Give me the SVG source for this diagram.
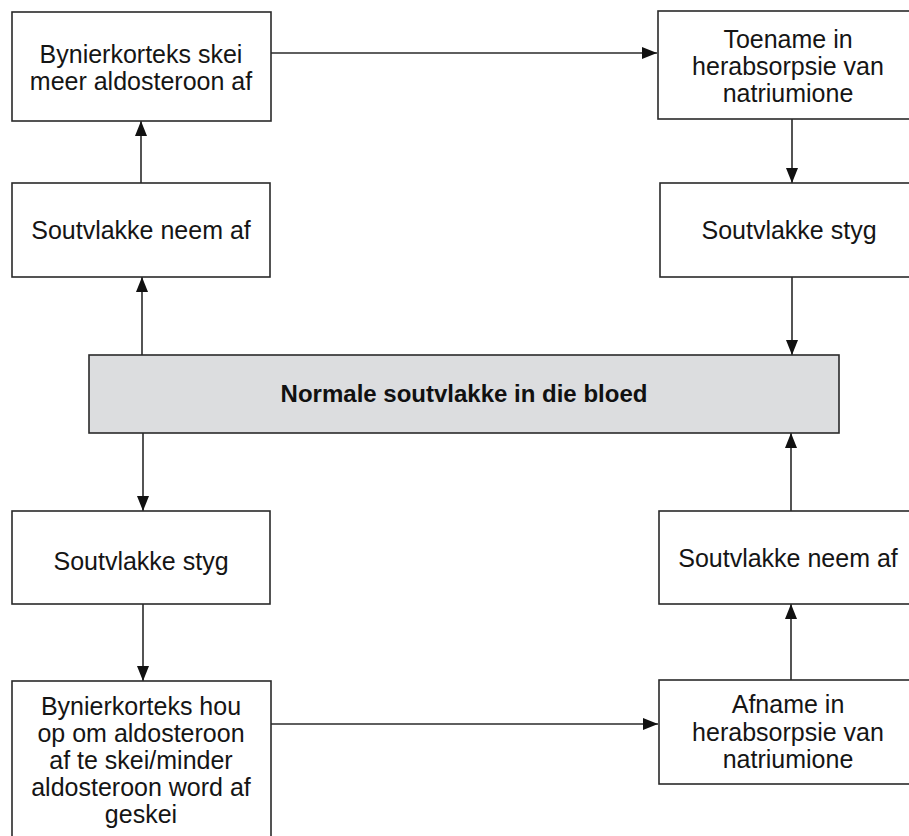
<svg xmlns="http://www.w3.org/2000/svg" width="909" height="836" viewBox="0 0 909 836">
<style>
.box{fill:#ffffff;stroke:#2a2a2a;stroke-width:1.6}
.mid{fill:#dcdddf;stroke:#2a2a2a;stroke-width:1.6}
.t{font-family:"Liberation Sans",Arial,sans-serif;font-size:25px;fill:#151515;text-anchor:middle}
.tb{font-family:"Liberation Sans",Arial,sans-serif;font-size:24px;font-weight:bold;fill:#111;text-anchor:middle}
.c{stroke:#2a2a2a;stroke-width:1.6;fill:none;marker-end:url(#ah)}
</style>
<defs>
<marker id="ah" markerUnits="userSpaceOnUse" markerWidth="16" markerHeight="13" refX="15" refY="6" orient="auto">
<path d="M0,0 L15,6 L0,12 z" fill="#111"/>
</marker>
</defs>
<g id="connectors">
<line class="c" x1="271" y1="53" x2="657" y2="53"/>
<line class="c" x1="792" y1="119" x2="792" y2="183"/>
<line class="c" x1="792" y1="277" x2="792" y2="355"/>
<line class="c" x1="791" y1="511" x2="791" y2="433"/>
<line class="c" x1="791" y1="680" x2="791" y2="604"/>
<line class="c" x1="141" y1="183" x2="141" y2="121"/>
<line class="c" x1="142" y1="355" x2="142" y2="277"/>
<line class="c" x1="143" y1="433" x2="143" y2="511"/>
<line class="c" x1="143" y1="604" x2="143" y2="681"/>
<line class="c" x1="271" y1="724" x2="658" y2="724"/>
</g>
<g id="n_bynier_skei">
<rect class="box" x="12" y="12" width="259" height="109"/>
<text class="t" x="141" y="63">Bynierkorteks skei</text>
<text class="t" x="141" y="90">meer aldosteroon af</text>
</g>
<g id="n_toename">
<rect class="box" x="658" y="11" width="260" height="108"/>
<text class="t" x="788" y="48">Toename in</text>
<text class="t" x="788" y="75">herabsorpsie van</text>
<text class="t" x="788" y="102">natriumione</text>
</g>
<g id="n_neem_af_left">
<rect class="box" x="12" y="183" width="258" height="94"/>
<text class="t" x="141" y="239">Soutvlakke neem af</text>
</g>
<g id="n_styg_right">
<rect class="box" x="660" y="183" width="258" height="94"/>
<text class="t" x="789" y="239">Soutvlakke styg</text>
</g>
<g id="n_normaal">
<rect class="mid" x="89" y="355" width="750" height="78"/>
<text class="tb" x="464" y="402">Normale soutvlakke in die bloed</text>
</g>
<g id="n_styg_left">
<rect class="box" x="12" y="511" width="258" height="93"/>
<text class="t" x="141" y="570">Soutvlakke styg</text>
</g>
<g id="n_neem_af_right">
<rect class="box" x="659" y="511" width="259" height="93"/>
<text class="t" x="788" y="567">Soutvlakke neem af</text>
</g>
<g id="n_bynier_hou_op">
<rect class="box" x="12" y="681" width="259" height="170"/>
<text class="t" x="141" y="715">Bynierkorteks hou</text>
<text class="t" x="141" y="742">op om aldosteroon</text>
<text class="t" x="141" y="769">af te skei/minder</text>
<text class="t" x="141" y="796">aldosteroon word af</text>
<text class="t" x="141" y="823">geskei</text>
</g>
<g id="n_afname">
<rect class="box" x="659" y="680" width="259" height="104"/>
<text class="t" x="788" y="713">Afname in</text>
<text class="t" x="788" y="741">herabsorpsie van</text>
<text class="t" x="788" y="768">natriumione</text>
</g>
</svg>
